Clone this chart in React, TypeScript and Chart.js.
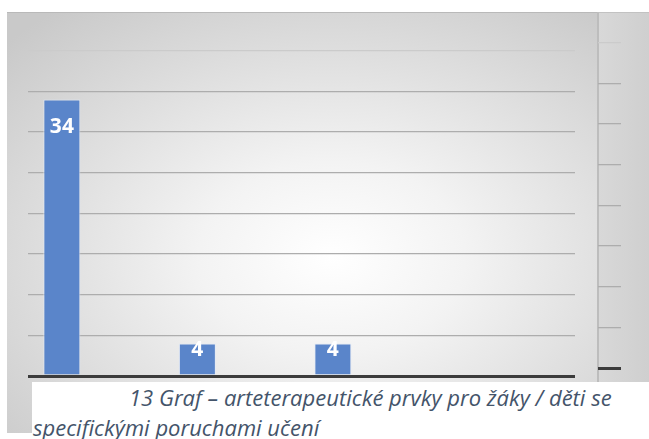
import React, { useEffect, useRef } from "react";
import { Chart, registerables } from "chart.js";

Chart.register(...registerables);

// ---- data ----
const categories = ["1", "2", "3", "4", "5", "6", "7", "8"];
const values: (number | null)[] = [34, null, 4, null, 4, null, null, null];
const yMin = 0;
const yMax = 45;
const yStep = 5;
const captionLine1 = "13 Graf – arteterapeutické prvky pro žáky / děti se";
const captionLine2 = "specifickými poruchami učení";

const barLabelPlugin = {
  id: "barLabels",
  afterDatasetsDraw(chart: any) {
    const ctx = chart.ctx;
    chart.data.datasets.forEach((ds: any, i: number) => {
      const meta = chart.getDatasetMeta(i);
      meta.data.forEach((el: any, j: number) => {
        const v = ds.data[j];
        if (v === null || v === undefined) return;
        ctx.save();
        ctx.fillStyle = "#ffffff";
        ctx.font = "bold 21px 'Open Sans', Lato, sans-serif";
        ctx.textAlign = "center";
        ctx.textBaseline = "middle";
        const y = Math.min(el.y + 28, el.base - 24);
        ctx.fillText(String(v), el.x, y);
        ctx.restore();
      });
    });
  },
};

function gridColor(ctx: any) {
  const v = ctx.tick?.value;
  if (v === 0) return "#3c3c3c";
  if (v === yMax) return "rgba(0,0,0,0)";
  if (v === 40) return "#cbcbcb";
  return "#adadad";
}
function gridWidth(ctx: any) {
  return ctx.tick?.value === 0 ? 3 : 1.3;
}

export default function App() {
  const mainRef = useRef<HTMLCanvasElement>(null);
  const sideRef = useRef<HTMLCanvasElement>(null);

  useEffect(() => {
    const main = new Chart(mainRef.current!, {
      type: "bar",
      data: {
        labels: categories,
        datasets: [
          {
            data: values,
            backgroundColor: "#5a85ca",
            borderColor: "rgba(225,233,246,0.9)",
            borderWidth: 1,
            categoryPercentage: 1,
            barPercentage: 0.546,
          },
        ],
      },
      options: {
        responsive: false,
        animation: false,
        devicePixelRatio: 1,
        layout: { padding: { left: 28, right: 74, top: 10, bottom: 63 } },
        plugins: { legend: { display: false }, tooltip: { enabled: false } },
        scales: {
          x: { display: false },
          y: {
            position: "right",
            min: yMin,
            max: yMax,
            ticks: { display: false, stepSize: yStep },
            border: { display: false },
            grid: { color: gridColor, lineWidth: gridWidth, tickLength: 5, drawTicks: true },
          },
        },
      },
      plugins: [barLabelPlugin],
    });

    const side = new Chart(sideRef.current!, {
      type: "bar",
      data: { labels: [], datasets: [{ data: [] }] },
      options: {
        responsive: false,
        animation: false,
        devicePixelRatio: 1,
        layout: { padding: { left: 0, right: 28, top: 2, bottom: 71 } },
        plugins: { legend: { display: false }, tooltip: { enabled: false } },
        scales: {
          x: { display: false },
          y: {
            min: yMin,
            max: yMax,
            ticks: { display: false, stepSize: yStep },
            border: { display: false },
            grid: { color: gridColor, lineWidth: gridWidth, drawTicks: false },
          },
        },
      },
    });

    return () => {
      main.destroy();
      side.destroy();
    };
  }, []);

  const captionFont: React.CSSProperties = {
    position: "absolute",
    fontFamily: "'Open Sans', Lato, sans-serif",
    fontStyle: "italic",
    fontSize: 22,
    color: "#44546a",
    whiteSpace: "nowrap",
    lineHeight: "24px",
  };

  return (
    <div
      style={{
        position: "fixed",
        left: 0,
        top: 0,
        width: 649,
        height: 439,
        background: "#ffffff",
        overflow: "hidden",
      }}
    >
      <div
        style={{
          position: "absolute",
          left: 7,
          top: 12,
          width: 591,
          height: 420,
          borderTop: "1px solid #b9b9b9",
          background:
            "radial-gradient(ellipse 75% 75% at 55% 58%, #ffffff 0%, #f3f3f3 30%, #dedede 65%, #c9c9c9 100%)",
        }}
      />
      <div
        style={{
          position: "absolute",
          left: 597,
          top: 12,
          width: 50,
          height: 371,
          borderTop: "1px solid #c2c2c2",
          borderLeft: "2px solid #bdbdbd",
          background: "linear-gradient(90deg, #d8d8d8 0%, #cfcfcf 100%)",
        }}
      />
      <canvas
        ref={mainRef}
        width={649}
        height={439}
        style={{ position: "absolute", left: 0, top: 0 }}
      />
      <canvas
        ref={sideRef}
        width={51}
        height={439}
        style={{ position: "absolute", left: 598, top: 0 }}
      />
      <div
        style={{
          position: "absolute",
          left: 32,
          top: 382,
          width: 617,
          height: 57,
          background: "#ffffff",
        }}
      />
      <div style={{ ...captionFont, left: 129, top: 385 }}>{captionLine1}</div>
      <div style={{ ...captionFont, left: 33, top: 415 }}>{captionLine2}</div>
    </div>
  );
}
